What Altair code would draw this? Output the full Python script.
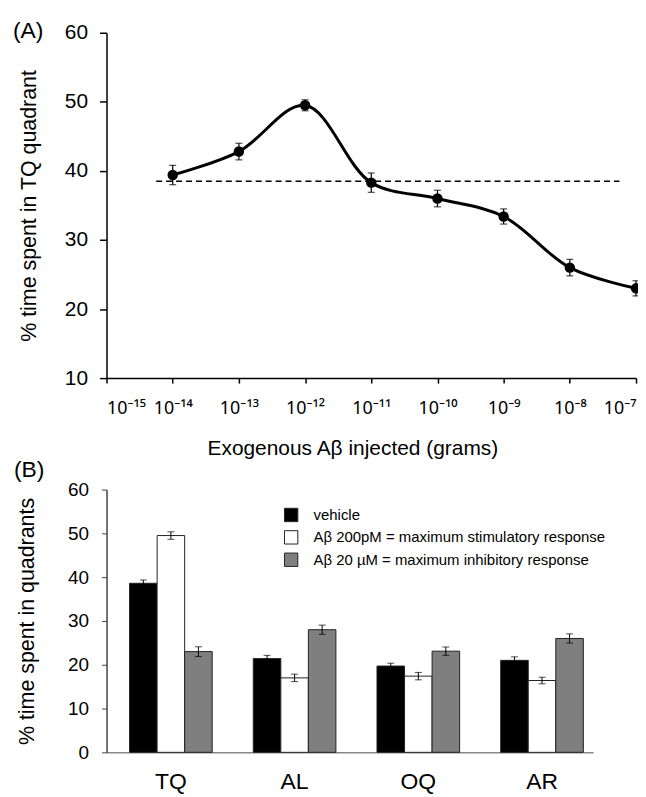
import json
import altair as alt
import pandas as pd

# ---------------- Panel A data ----------------
dose_exp = [-14, -13, -12, -11, -10, -9, -8, -7]
tq_time = [39.4, 42.8, 49.5, 38.3, 36.0, 33.4, 26.0, 23.0]
tq_err = [1.4, 1.2, 0.8, 1.4, 1.2, 1.1, 1.2, 1.1]
baseline_value = 38.5
baseline_exp = [-14.25, -7.25]
x_tick_exp = [-15, -14, -13, -12, -11, -10, -9, -8, -7]
x_tick_labels = ["10⁻¹⁵", "10⁻¹⁴", "10⁻¹³", "10⁻¹²", "10⁻¹¹", "10⁻¹⁰", "10⁻⁹", "10⁻⁸", "10⁻⁷"]
y_ticks_a = [10, 20, 30, 40, 50, 60]

# ---------------- Panel B data ----------------
quadrants = ["TQ", "AL", "OQ", "AR"]
treatments = [
    "vehicle",
    "Aβ 200pM = maximum stimulatory response",
    "Aβ 20 µM = maximum inhibitory response",
]
vehicle_vals = [38.6, 21.4, 19.7, 21.0]
stim_vals = [49.5, 17.0, 17.4, 16.4]
inhib_vals = [23.0, 28.0, 23.1, 26.0]
vehicle_err = [0.75, 0.75, 0.65, 0.8]
stim_err = [0.85, 0.85, 0.85, 0.75]
inhib_err = [1.1, 1.05, 0.95, 1.05]
bar_colors = ["#000000", "#ffffff", "#7f7f7f"]
y_ticks_b = [0, 10, 20, 30, 40, 50, 60]

FONT = "Liberation Sans"

# ---------------- Panel A ----------------
df_a = pd.DataFrame({
    "dose": [10.0 ** e for e in dose_exp],
    "time": tq_time,
    "lo": [v - e for v, e in zip(tq_time, tq_err)],
    "hi": [v + e for v, e in zip(tq_time, tq_err)],
})
df_base = pd.DataFrame({
    "dose": [10.0 ** e for e in baseline_exp],
    "time": [baseline_value] * len(baseline_exp),
})

label_expr = json.dumps(x_tick_labels, ensure_ascii=False) + "[round(log(datum.value)/LN10) + 15]"

x_scale_a = alt.Scale(type="log", domain=[10.0 ** x_tick_exp[0], 10.0 ** x_tick_exp[-1]], nice=False)
y_scale_a = alt.Scale(domain=[10, 60], nice=False, zero=False)

x_axis_a = alt.Axis(
    title="Exogenous Aβ injected (grams)",
    values=[10.0 ** e for e in x_tick_exp],
    labelExpr=label_expr, labelFont="Noto Sans",
    labelFontSize=18, labelPadding=17, tickSize=5,
    titleFontSize=21, titleFontWeight="normal", titlePadding=20,
    titleX=247, titleAlign="center",
    grid=False, domainWidth=1.5, tickWidth=1.5,
)
y_axis_a = alt.Axis(
    title="% time spent in TQ quadrant",
    values=y_ticks_a,
    labelFontSize=21, labelPadding=12, tickSize=7,
    titleFontSize=21.5, titleFontWeight="normal", titlePadding=24,
    grid=False, domainWidth=1.5, tickWidth=1.5,
)

X = alt.X("dose:Q", scale=x_scale_a, axis=x_axis_a)
Y = alt.Y("time:Q", scale=y_scale_a, axis=y_axis_a)

base_a = alt.Chart(df_a)
dashed = alt.Chart(df_base).mark_line(color="black", strokeWidth=1.5, strokeDash=[6, 4]).encode(
    x=alt.X("dose:Q", scale=x_scale_a), y=alt.Y("time:Q", scale=y_scale_a)
)
curve = base_a.mark_line(color="black", strokeWidth=3, interpolate="catmull-rom").encode(x=X, y=Y)
err_a = base_a.mark_rule(color="black", strokeWidth=1.2).encode(x="dose:Q", y="lo:Q", y2="hi:Q")
cap_lo_a = base_a.mark_tick(color="black", orient="horizontal", size=7, thickness=1.2).encode(x="dose:Q", y="lo:Q")
cap_hi_a = base_a.mark_tick(color="black", orient="horizontal", size=7, thickness=1.2).encode(x="dose:Q", y="hi:Q")
pts = base_a.mark_point(filled=True, color="black", size=110, opacity=1).encode(x="dose:Q", y="time:Q")

panel_a = alt.layer(dashed, curve, err_a, cap_lo_a, cap_hi_a, pts).properties(
    width=532, height=347,
    title=alt.TitleParams("(A)", anchor="start", frame="group", fontSize=23,
                          fontWeight="normal", font=FONT, offset=-21, dx=-94),
)

# ---------------- Panel B ----------------
rows = []
for vals, errs, t in [(vehicle_vals, vehicle_err, treatments[0]),
                      (stim_vals, stim_err, treatments[1]),
                      (inhib_vals, inhib_err, treatments[2])]:
    for q, v, e in zip(quadrants, vals, errs):
        rows.append({"quadrant": q, "treatment": t, "value": v, "lo": v - e, "hi": v + e})
df_b = pd.DataFrame(rows)

x_b = alt.X("quadrant:N", sort=quadrants,
            scale=alt.Scale(paddingInner=0.332, paddingOuter=0.133, align=0.7),
            axis=alt.Axis(title=None, labelAngle=0, labelFontSize=23, labelPadding=18,
                          ticks=False, domainColor="#888888", domainWidth=1.5))
xo_b = alt.XOffset("treatment:N", sort=treatments, scale=alt.Scale(paddingInner=0, paddingOuter=0))
y_scale_b = alt.Scale(domain=[0, 60], nice=False)
y_b = alt.Y("value:Q", scale=y_scale_b,
            axis=alt.Axis(title="% time spent in quadrants", values=y_ticks_b,
                          labelFontSize=19, labelPadding=13, tickSize=5,
                          titleFontSize=21.5, titleFontWeight="normal", titlePadding=29,
                          grid=False, domainColor="#444444", domainWidth=1.5, tickColor="#444444"))

base_b = alt.Chart(df_b)
bars = base_b.mark_bar(stroke="#222222", strokeWidth=1).encode(
    x=x_b, xOffset=xo_b, y=y_b,
    color=alt.Color("treatment:N", sort=treatments,
                    scale=alt.Scale(domain=treatments, range=bar_colors),
                    legend=alt.Legend(title=None, orient="none", legendX=178, legendY=18,
                                      symbolType="square", symbolSize=180,
                                      symbolStrokeColor="#222222", symbolStrokeWidth=1,
                                      labelFontSize=15, labelLimit=500, rowPadding=3.5,
                                      labelOffset=15, padding=0)),
)
err_b = base_b.mark_rule(color="black", strokeWidth=1).encode(
    x=alt.X("quadrant:N", sort=quadrants), xOffset=alt.XOffset("treatment:N", sort=treatments),
    y=alt.Y("lo:Q", scale=y_scale_b), y2="hi:Q")
cap_lo_b = base_b.mark_tick(color="black", orient="horizontal", size=7, thickness=1).encode(
    x=alt.X("quadrant:N", sort=quadrants), xOffset=alt.XOffset("treatment:N", sort=treatments),
    y=alt.Y("lo:Q", scale=y_scale_b))
cap_hi_b = base_b.mark_tick(color="black", orient="horizontal", size=7, thickness=1).encode(
    x=alt.X("quadrant:N", sort=quadrants), xOffset=alt.XOffset("treatment:N", sort=treatments),
    y=alt.Y("hi:Q", scale=y_scale_b))

panel_b = alt.layer(bars, err_b, cap_lo_b, cap_hi_b).properties(
    width=489, height=264,
    title=alt.TitleParams("(B)", anchor="start", frame="group", fontSize=23,
                          fontWeight="normal", font=FONT, offset=-1, dx=-93),
)

chart = alt.vconcat(panel_a, panel_b, spacing=0).resolve_legend(color="independent").properties(
    padding={"left": 5, "top": 10, "right": -4, "bottom": 0}
).configure(
    font=FONT
).configure_axis(
    labelFont=FONT, titleFont=FONT, labelColor="black", titleColor="black",
    domainColor="black", tickColor="black",
).configure_legend(labelFont=FONT, labelColor="black").configure_view(stroke=None)

chart.save("out.html", embed_options={"renderer": "svg", "actions": False})
